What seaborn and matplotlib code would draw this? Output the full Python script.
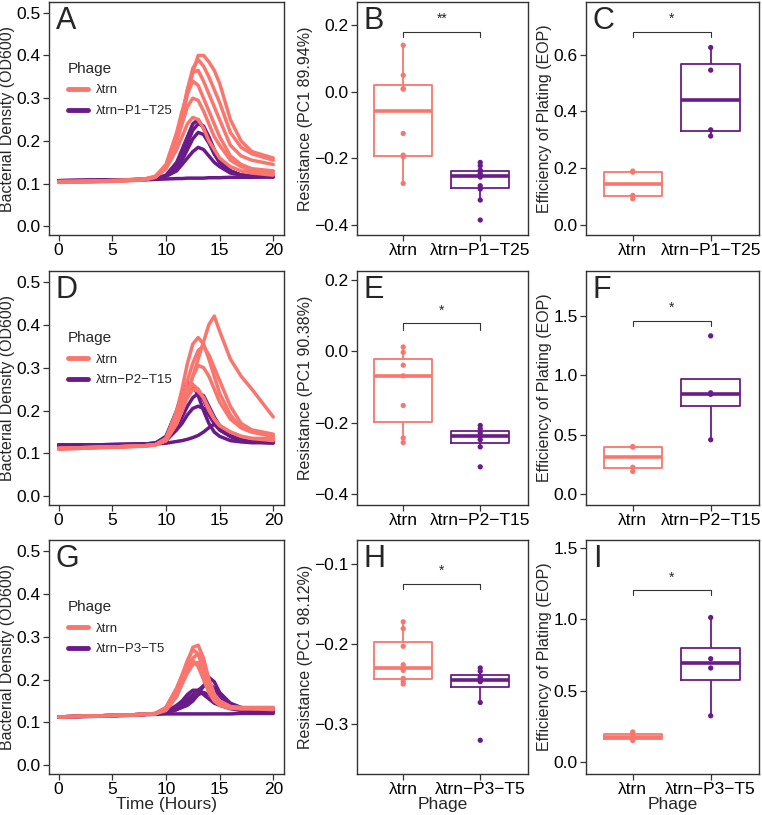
import numpy as np
import pandas as pd
import seaborn as sns
import matplotlib
matplotlib.use("Agg")
import matplotlib.pyplot as plt
from matplotlib.lines import Line2D

sns.set_style("ticks")
plt.rcParams['font.family'] = ['Liberation Sans', 'DejaVu Sans']
plt.rcParams['axes.unicode_minus'] = True

SALMON = "#F8766D"
PURPLE = "#6A1B8A"

# Growth curves: OD600 at these times (hours)
times = [0, 3, 6, 8, 9, 10, 11, 11.5, 12, 12.5, 13, 13.5, 14, 14.5, 15, 16, 17, 18, 20]

# Panel A
A_trn = [
    [.105, .106, .108, .110, .115, .135, .20, .25, .31, .36, .40, .40, .385, .365, .335, .25, .20, .175, .16],
    [.104, .105, .107, .110, .116, .14, .21, .26, .32, .37, .39, .375, .35, .32, .29, .22, .185, .17, .155],
    [.103, .104, .106, .109, .115, .14, .21, .26, .32, .36, .365, .34, .31, .28, .25, .19, .165, .155, .145],
    [.104, .105, .107, .110, .117, .145, .22, .27, .31, .34, .33, .30, .27, .24, .21, .165, .145, .135, .13],
    [.105, .106, .108, .111, .117, .14, .20, .24, .28, .30, .295, .27, .24, .21, .19, .155, .14, .13, .125],
    [.105, .106, .108, .111, .116, .135, .18, .21, .24, .255, .25, .23, .20, .18, .16, .14, .13, .125, .12],
]
A_mut = [
    [.107, .108, .109, .110, .112, .12, .15, .18, .21, .24, .25, .23, .20, .17, .15, .13, .12, .118, .117],
    [.107, .108, .109, .110, .112, .118, .14, .165, .195, .225, .24, .235, .21, .18, .155, .13, .12, .118, .117],
    [.107, .108, .109, .110, .112, .118, .135, .155, .18, .205, .22, .215, .195, .17, .15, .13, .12, .117, .116],
    [.107, .108, .109, .110, .112, .117, .13, .145, .16, .175, .185, .18, .165, .15, .14, .125, .12, .117, .116],
    [.106, .107, .108, .109, .110, .111, .112, .112, .113, .113, .113, .113, .114, .114, .114, .115, .115, .115, .116],
]

# Panel D
D_trn = [
    [.11, .113, .116, .118, .12, .13, .17, .20, .24, .28, .32, .36, .40, .42, .385, .32, .28, .25, .185],
    [.112, .114, .116, .118, .12, .135, .20, .25, .31, .355, .37, .355, .32, .28, .24, .19, .16, .15, .14],
    [.112, .114, .116, .118, .12, .13, .18, .22, .27, .31, .34, .35, .33, .30, .27, .21, .17, .155, .145],
    [.112, .114, .116, .118, .12, .13, .17, .20, .24, .28, .305, .30, .28, .25, .22, .18, .16, .15, .14],
    [.112, .114, .116, .118, .12, .135, .19, .22, .25, .26, .25, .23, .20, .18, .165, .15, .14, .135, .135],
    [.11, .113, .115, .117, .12, .13, .17, .20, .23, .25, .245, .23, .205, .18, .165, .15, .14, .135, .13],
]
D_mut = [
    [.12, .12, .121, .122, .124, .14, .20, .24, .265, .26, .235, .20, .17, .15, .14, .13, .127, .125, .125],
    [.12, .12, .121, .122, .124, .135, .18, .21, .235, .25, .245, .225, .195, .17, .155, .14, .13, .127, .125],
    [.12, .12, .121, .122, .124, .13, .16, .185, .21, .23, .24, .235, .21, .185, .165, .145, .135, .13, .127],
    [.12, .12, .121, .122, .124, .13, .155, .17, .19, .205, .21, .205, .19, .17, .155, .14, .13, .127, .125],
    [.118, .119, .12, .121, .122, .124, .128, .13, .133, .137, .142, .15, .16, .168, .16, .14, .13, .127, .125],
]

# Panel G
G_trn = [
    [.113, .115, .117, .119, .121, .13, .17, .20, .24, .275, .28, .25, .20, .165, .15, .137, .135, .135, .135],
    [.113, .115, .117, .119, .121, .135, .18, .21, .245, .27, .26, .22, .18, .155, .145, .135, .133, .133, .133],
    [.113, .115, .117, .119, .12, .128, .16, .19, .22, .25, .26, .24, .20, .165, .15, .137, .134, .133, .133],
    [.113, .115, .117, .119, .121, .135, .18, .21, .24, .245, .23, .20, .17, .15, .14, .133, .132, .132, .132],
    [.113, .115, .117, .119, .12, .13, .165, .19, .215, .235, .24, .22, .185, .16, .145, .135, .132, .132, .13],
]
G_mut = [
    [.113, .115, .117, .119, .12, .122, .13, .135, .14, .15, .165, .185, .205, .195, .17, .145, .135, .132, .13],
    [.113, .115, .117, .119, .12, .123, .135, .145, .155, .165, .175, .185, .19, .18, .16, .14, .132, .13, .128],
    [.113, .115, .117, .119, .12, .125, .14, .15, .165, .175, .175, .165, .155, .145, .14, .132, .128, .126, .125],
    [.113, .115, .117, .119, .12, .123, .13, .14, .148, .157, .165, .17, .165, .155, .145, .135, .13, .128, .126],
    [.112, .114, .116, .118, .119, .12, .12, .12, .12, .12, .12, .12, .12, .12, .12, .12, .121, .121, .121],
]

mutants = ["λtrn−P1−T25", "λtrn−P2−T15", "λtrn−P3−T5"]

# Resistance (PC1) per replicate
B_trn = [-0.275, -0.195, -0.19, -0.125, 0.008, 0.01, 0.05, 0.14]
B_mut = [-0.385, -0.325, -0.292, -0.282, -0.256, -0.252, -0.245, -0.235, -0.222, -0.212]
E_trn = [-0.256, -0.243, -0.152, -0.069, -0.039, -0.003, 0.012]
E_mut = [-0.324, -0.268, -0.248, -0.238, -0.229, -0.217, -0.208]
H_trn = [-0.25, -0.247, -0.243, -0.233, -0.226, -0.203, -0.181, -0.1725]
H_mut = [-0.320, -0.273, -0.247, -0.246, -0.243, -0.241, -0.234, -0.230]

# Efficiency of plating
C_trn = [0.091, 0.103, 0.185, 0.189]
C_mut = [0.313, 0.335, 0.546, 0.626]
F_trn = [0.19, 0.225, 0.395, 0.40]
F_mut = [0.457, 0.84, 0.853, 1.333]
I_trn = [0.152, 0.163, 0.197, 0.212]
I_mut = [0.325, 0.659, 0.724, 1.012]

# significance: stars, bracket height, tick bottom
B_sig = ("**", 0.18, 0.165)
C_sig = ("*", 0.682, 0.664)
E_sig = ("*", 0.078, 0.06)
F_sig = ("*", 1.458, 1.415)
H_sig = ("*", -0.125, -0.1315)
I_sig = ("*", 1.203, 1.168)

W, H = 762, 815
fig = plt.figure(figsize=(W / 100, H / 100), dpi=100)

rows_px = [(2, 235), (271, 505), (540, 774)]
cols_px = [(49, 284), (357, 528), (586, 759)]


def make_ax(r, c):
    (t, b), (l, rr) = rows_px[r], cols_px[c]
    return fig.add_axes([l / W, 1 - b / H, (rr - l) / W, (b - t) / H])


def style(ax, letter):
    for s in ax.spines.values():
        s.set_color("#333333")
        s.set_linewidth(1.0)
    ax.tick_params(labelsize=12.5, length=4, width=0.9, pad=2, colors="#333333", labelcolor="black")
    ax.annotate(letter, xy=(0, 1), xycoords="axes fraction", xytext=(5, -3),
                textcoords="offset points", ha="left", va="top", fontsize=22)


def curve_frame(curves, name):
    recs = []
    for i, ys in enumerate(curves):
        for t, y in zip(times, ys):
            recs.append({"time": t, "od": y, "rep": i, "Phage": name})
    return pd.DataFrame(recs)


def draw_growth(ax, trn, mut, mname, letter, xlabel):
    sns.lineplot(data=curve_frame(mut, mname), x="time", y="od", units="rep",
                 estimator=None, color=PURPLE, lw=2.5, ax=ax, legend=False)
    sns.lineplot(data=curve_frame(trn, "λtrn"), x="time", y="od", units="rep",
                 estimator=None, color=SALMON, lw=2.5, ax=ax, legend=False)
    ax.set_xlim(-0.9, 21)
    ax.set_ylim(-0.02, 0.525)
    ax.set_xticks([0, 5, 10, 15, 20])
    ax.set_yticks([0.0, 0.1, 0.2, 0.3, 0.4, 0.5])
    ax.set_ylabel("Bacterial Density (OD600)", fontsize=11.5, labelpad=1)
    ax.set_xlabel(xlabel, fontsize=12.5, labelpad=0)
    handles = [Line2D([], [], color=SALMON, lw=3.5), Line2D([], [], color=PURPLE, lw=3.5)]
    ax.legend(handles, ["λtrn", mname], title="Phage", frameon=False, loc="upper left",
              bbox_to_anchor=(0.03, 0.795), fontsize=9.5, title_fontsize=11,
              handlelength=1.5, handletextpad=0.6, alignment="left", labelspacing=0.65)
    style(ax, letter)


def draw_box(ax, trn, mut, mname, sig, ylabel, ylim, yticks, letter, xlabel):
    df = pd.DataFrame({"Phage": ["λtrn"] * len(trn) + [mname] * len(mut),
                       "value": trn + mut})
    pal = {"λtrn": SALMON, mname: PURPLE}
    sns.boxplot(data=df, x="Phage", y="value", hue="Phage", palette=pal, fill=False,
                showfliers=False, showcaps=False, width=0.75, linewidth=1.3,
                saturation=1, medianprops=dict(linewidth=2.6), ax=ax, legend=False)
    sns.stripplot(data=df, x="Phage", y="value", hue="Phage", palette=pal, jitter=False,
                  size=3.8, ax=ax, legend=False)
    stars, ybr, ytk = sig
    ax.plot([0, 0, 1, 1], [ytk, ybr, ybr, ytk], color="#333333", lw=0.8)
    ax.text(0.5, ybr + (ylim[1] - ylim[0]) * 0.025, stars, ha="center", va="bottom", fontsize=10)
    ax.set_ylim(*ylim)
    ax.set_yticks(yticks)
    ax.set_xlim(-0.6, 1.62)
    ax.set_ylabel(ylabel, fontsize=11.5, labelpad=1)
    ax.set_xlabel(xlabel, fontsize=12.5, labelpad=0)
    style(ax, letter)


draw_growth(make_ax(0, 0), A_trn, A_mut, mutants[0], "A", "")
draw_growth(make_ax(1, 0), D_trn, D_mut, mutants[1], "D", "")
draw_growth(make_ax(2, 0), G_trn, G_mut, mutants[2], "G", "Time (Hours)")

draw_box(make_ax(0, 1), B_trn, B_mut, mutants[0], B_sig, "Resistance (PC1 89.94%)",
         (-0.43, 0.27), [-0.4, -0.2, 0.0, 0.2], "B", "")
draw_box(make_ax(1, 1), E_trn, E_mut, mutants[1], E_sig, "Resistance (PC1 90.38%)",
         (-0.431, 0.225), [-0.4, -0.2, 0.0, 0.2], "E", "")
draw_box(make_ax(2, 1), H_trn, H_mut, mutants[2], H_sig, "Resistance (PC1 98.12%)",
         (-0.362, -0.0707), [-0.3, -0.2, -0.1], "H", "Phage")

draw_box(make_ax(0, 2), C_trn, C_mut, mutants[0], C_sig, "Efficiency of Plating (EOP)",
         (-0.037, 0.787), [0.0, 0.2, 0.4, 0.6], "C", "")
draw_box(make_ax(1, 2), F_trn, F_mut, mutants[1], F_sig, "Efficiency of Plating (EOP)",
         (-0.093, 1.88), [0.0, 0.5, 1.0, 1.5], "F", "")
draw_box(make_ax(2, 2), I_trn, I_mut, mutants[2], I_sig, "Efficiency of Plating (EOP)",
         (-0.082, 1.554), [0.0, 0.5, 1.0, 1.5], "I", "Phage")

fig.savefig("out.png", dpi=100)
